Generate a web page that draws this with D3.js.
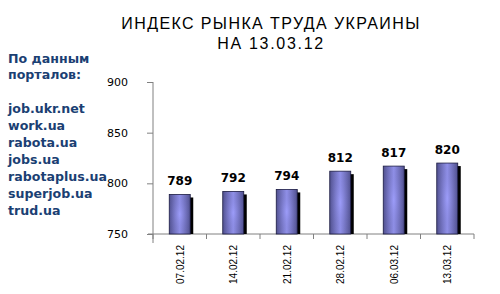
<!DOCTYPE html>
<html><head><meta charset="utf-8">
<script src="https://cdn.jsdelivr.net/npm/d3@7"></script>
<style>body{margin:0;background:#fff;}svg{display:block;}</style>
</head><body>
<svg id="chart" width="500" height="294"></svg>
<script>
const categories = ["07.02.12","14.02.12","21.02.12","28.02.12","06.03.12","13.03.12"];
const values = [789, 792, 794, 812, 817, 820];
const yTicks = [750, 800, 850, 900];
const titleLines = ["ИНДЕКС РЫНКА ТРУДА УКРАИНЫ", "НА 13.03.12"];
const sideHeader = ["По данным", "порталов:"];
const portals = ["job.ukr.net","work.ua","rabota.ua","jobs.ua","rabotaplus.ua","superjob.ua","trud.ua"];

const svg = d3.select("#chart");
const defs = svg.append("defs");
const gh = defs.append("linearGradient").attr("id","gh").attr("x1","0").attr("x2","1").attr("y1","0").attr("y2","0");
gh.append("stop").attr("offset","0%").attr("stop-color","#50508e");
gh.append("stop").attr("offset","50%").attr("stop-color","#9696f0");
gh.append("stop").attr("offset","100%").attr("stop-color","#50508e");
const gv = defs.append("radialGradient").attr("id","gv").attr("cx","0.5").attr("cy","0.5").attr("r","0.6");
gv.append("stop").attr("offset","0%").attr("stop-color","#a0a0ff").attr("stop-opacity",0.6);
gv.append("stop").attr("offset","100%").attr("stop-color","#5a5aa0").attr("stop-opacity",0);

const x0 = 153, x1 = 474, yTop = 82, yBot = 234;
const xTick = d3.scaleBand().domain(categories).range([x0, x1]);
const y = d3.scaleLinear().domain([750, 900]).range([yBot, yTop]);

// title
const tspacing = [1.4, 1.7];
svg.append("g").selectAll("text").data(titleLines).join("text")
  .attr("x", 271).attr("y",(d,i)=>29 + i*20).attr("text-anchor","middle")
  .attr("font-family","Liberation Sans, Arial, sans-serif").attr("font-size",16).attr("fill","#000")
  .attr("letter-spacing",(d,i)=>tspacing[i]).text(d=>d);

// side text
const side = svg.append("g").attr("font-family","DejaVu Sans, Verdana, sans-serif")
  .attr("font-weight","bold").attr("font-size",12.6).attr("fill","#1b3f73");
side.selectAll("text.h").data(sideHeader).join("text").attr("class","h")
  .attr("x",8).attr("y",(d,i)=>63 + i*16).text(d=>d);
side.selectAll("text.p").data(portals).join("text").attr("class","p")
  .attr("x",8).attr("y",(d,i)=>113 + i*17).text(d=>d);

// y axis
const yAxis = d3.axisLeft(y).tickValues(yTicks).tickSize(6).tickPadding(19).tickFormat(d3.format("d"));
const gy = svg.append("g").attr("transform",`translate(${x0},0)`).call(yAxis);
gy.select(".domain").attr("stroke","#808080").attr("d",`M0,${yTop}V${yBot+9}`);
gy.selectAll(".tick line").attr("stroke","#808080");
gy.selectAll(".tick text").attr("font-family","DejaVu Sans, Verdana, sans-serif").attr("font-size",11).attr("fill","#000");

// x axis
const gx = svg.append("g").attr("transform",`translate(0,${yBot})`);
gx.append("line").attr("x1",x0-5).attr("x2",x1).attr("y1",0).attr("y2",0).attr("stroke","#808080");
gx.selectAll("line.t").data(categories.concat(["end"])).join("line").attr("class","t")
  .attr("x1",(d,i)=> i<categories.length ? xTick(d) : x1).attr("x2",(d,i)=> i<categories.length ? xTick(d) : x1)
  .attr("y1",0).attr("y2",5).attr("stroke","#808080");
gx.selectAll("text").data(categories).join("text")
  .attr("transform",d=>`translate(${xTick(d)+xTick.bandwidth()/2+4},11) rotate(-90)`)
  .attr("text-anchor","end").attr("font-family","Liberation Sans, Arial, sans-serif")
  .attr("font-size",10).attr("fill","#000").text(d=>d);

// bars
const bars = svg.append("g");
const bw = 21;
const cx = d => xTick(d) + xTick.bandwidth()/2;
bars.selectAll("rect.sh").data(values).join("rect").attr("class","sh")
  .attr("x",(d,i)=>cx(categories[i]) - bw/2 + 3).attr("y",d=>y(d)+3)
  .attr("width",bw).attr("height",d=>yBot - y(d) - 3).attr("fill","#000");
bars.selectAll("rect.b").data(values).join("rect").attr("class","b")
  .attr("x",(d,i)=>cx(categories[i]) - bw/2).attr("y",d=>y(d))
  .attr("width",bw).attr("height",d=>yBot - y(d)).attr("fill","url(#gh)")
  .attr("stroke","#1a1a40").attr("stroke-width",0.8);
bars.selectAll("rect.g").data(values).join("rect").attr("class","g")
  .attr("x",(d,i)=>cx(categories[i]) - bw/2).attr("y",d=>y(d))
  .attr("width",bw).attr("height",d=>yBot - y(d)).attr("fill","url(#gv)");

// labels
svg.append("g").selectAll("text").data(values).join("text")
  .attr("x",(d,i)=>cx(categories[i])).attr("y",d=>y(d)-9.5).attr("text-anchor","middle")
  .attr("font-family","DejaVu Sans, Verdana, sans-serif").attr("font-weight","bold")
  .attr("font-size",12).attr("fill","#000").text(d=>d);
</script>
</body></html>
